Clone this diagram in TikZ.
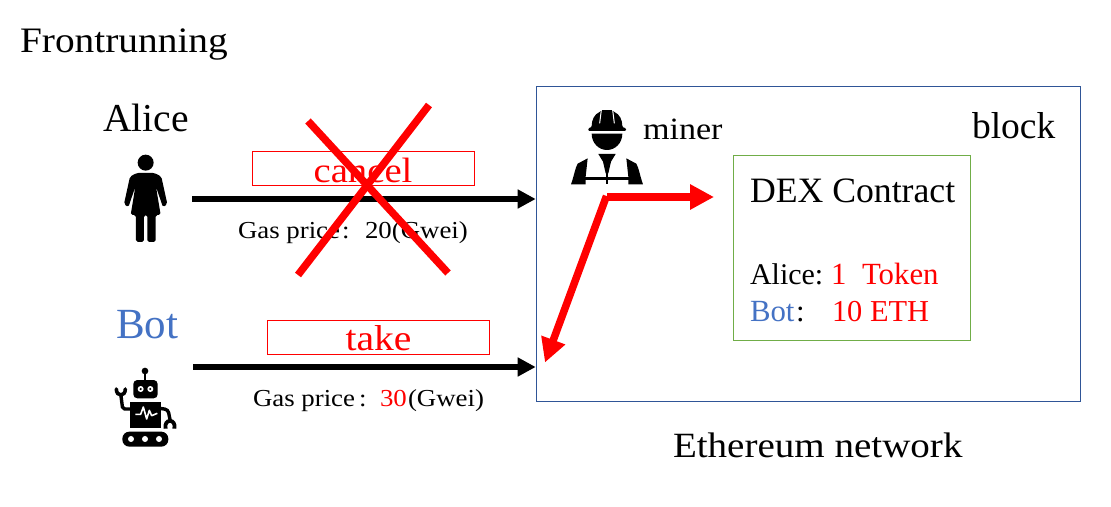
\documentclass[tikz,border=0pt]{standalone}
\usepackage{fontspec}
\setmainfont{Liberation Serif}
\newfontfamily\widefont[FakeStretch=1.1]{Liberation Serif}
\usetikzlibrary{arrows.meta}
\definecolor{blockblue}{HTML}{2F5597}
\definecolor{botblue}{HTML}{4472C4}
\definecolor{dexgreen}{HTML}{70AD47}
\tikzset{
  lbl/.style={anchor=base west,inner sep=0pt,outer sep=0pt,text=black},
  bigt/.style={lbl,font=\widefont\fontsize{35.8}{36}\selectfont},
  midt/.style={lbl,font=\fontsize{30.8}{31}\selectfont},
  smallt/.style={lbl,font=\widefont\fontsize{24.4}{24.4}\selectfont},
  redbox/.style={draw=red,line width=1pt,outer sep=0pt,minimum width=222pt,minimum height=34pt,inner sep=0pt},
  redword/.style={lbl,anchor=base,text=red,font=\widefont\fontsize{35.2}{36}\selectfont},
  blackarrow/.style={line width=6pt,draw=black,-{Triangle[length=18pt,width=18pt]}},
  redarrow/.style={line width=7.5pt,draw=red,-{Triangle[length=24pt,width=24pt]}},
  crossline/.style={line width=7.5pt,draw=red},
}
\begin{document}
\begin{tikzpicture}[x=1pt,y=-1pt]
\useasboundingbox (0,0) rectangle (1111,506);
\fill[white] (0,0) rectangle (1111,506);

% boxes
\node[draw=blockblue,line width=1.2pt,outer sep=0pt,minimum width=544pt,minimum height=315pt,inner sep=0pt,anchor=north west] (block) at (536.5,86.5) {};
\node[draw=dexgreen,line width=1.3pt,outer sep=0pt,minimum width=237pt,minimum height=185pt,inner sep=0pt,anchor=north west] (dex) at (733.5,155.5) {};
\node[redbox] (cancelbox) at (363.5,168.5) {};
\node[redbox] (takebox) at (378.5,337.5) {};
\node[redword] (canceltxt) at (363,182) {cancel};
\node[redword,font=\widefont\fontsize{36}{36}\selectfont] (taketxt) at (378.5,350) {take};

% labels
\node[bigt] (title) at (20,52) {Frontrunning};
\node[lbl,font=\fontsize{39.6}{40}\selectfont] (alice) at (103,131) {Alice};
\node[lbl,font=\fontsize{43}{43}\selectfont,text=botblue] (bot) at (116,338) {Bot};
\node[lbl,font=\widefont\fontsize{31}{31}\selectfont] (miner) at (643,139) {miner};
\node[lbl,font=\fontsize{37.5}{38}\selectfont] (blocktxt) at (972,138) {block};
\node[lbl,font=\fontsize{35.7}{36}\selectfont] (dextxt) at (750,202) {DEX Contract};
\node[midt,font=\fontsize{30}{31}\selectfont] (alicebal) at (750,284) {Alice:};
\node[midt,text=red] (aliceval) at (831,284) {1};
\node[midt,text=red] (aliceunit) at (862,284) {Token};
\node[midt,text=botblue] (botbal) at (750,321) {Bot};
\node[midt] (botcolon) at (796,321) {:};
\node[midt,text=red,font=\fontsize{30.4}{31}\selectfont] (botval) at (832,321) {10 ETH};
\node[bigt,font=\widefont\fontsize{35.5}{36}\selectfont] (network) at (673,457) {Ethereum network};
\node[smallt] (gas1) at (238,238) {Gas price};
\node[smallt] (colon1) at (342,238) {:};
\node[smallt] (price1) at (365,238) {20(Gwei)};
\node[smallt] (gas2) at (253,406) {Gas price};
\node[smallt] (colon2) at (359,406) {:};
\node[smallt,text=red] (val2) at (380,406) {30};
\node[smallt] (price2) at (408,406) {(Gwei)};

% connector ends
\coordinate (a1s) at (192,199);
\coordinate (a1e) at ([xshift=-0.8pt]block.west |- a1s);
\coordinate (a2s) at (193,367);
\coordinate (a2e) at ([xshift=-0.8pt]block.west |- a2s);
\coordinate (rk) at (607,197);
\coordinate (rk2) at (606.5,196);
\coordinate (re1) at (714,197);
\coordinate (re2) at (545,362.5);
\coordinate (c1a) at (429,105);
\coordinate (c1b) at (298,275);
\coordinate (c2a) at (308,121);
\coordinate (c2b) at (448,273);

\draw[blackarrow] (a1s) -- (a1e);
\draw[blackarrow] (a2s) -- (a2e);
\draw[redarrow] (rk) -- (re1);
\draw[redarrow] (rk2) -- (re2);
\draw[crossline] (c1a) -- (c1b);
\draw[crossline] (c2a) -- (c2b);

% Alice icon
\begin{scope}[shift={(90,90)},x=0.3333pt,y=-0.3333pt]
\fill (167,218) circle[radius=24];
\fill[rounded corners=1.8pt] (140,249) -- (194,249) -- (214,260) -- (232,342) -- (219,352) -- (198,290) -- (212,375) -- (197,375) -- (197,456) -- (172,456) -- (172,375) -- (162,375) -- (162,456) -- (138,456) -- (138,375) -- (122,375) -- (136,290) -- (115,352) -- (102,342) -- (120,260) -- cycle;
\end{scope}

% Bot icon
\begin{scope}[shift={(110,365)},x=0.3333pt,y=-0.3333pt]
\fill (105,18) circle[radius=10];
\draw[line width=2.8pt] (105,18) -- (105,50);
\fill[rounded corners=4pt] (70,45) rectangle (143,100);
\fill[white] (92,72) circle[radius=9] (121,72) circle[radius=9];
\fill (92,72) circle[radius=3.5] (121,72) circle[radius=3.5];
\fill (60,110) rectangle (152,190);
\draw[white,line width=1.6pt,line join=round] (76,148) -- (92,148) -- (100,126) -- (110,162) -- (118,136) -- (125,152) -- (142,145);
\draw[line width=3.4pt,rounded corners=2pt] (62,132) -- (38,132) -- (32,85);
\draw[line width=3.6pt,line cap=round] (19,72) .. controls (19,96) and (46,96) .. (46,72);
\draw[line width=3.4pt,rounded corners=3pt] (150,130) -- (174,134) -- (181,168);
\draw[line width=3.8pt] (167,191) .. controls (160,160) and (200,160) .. (193,191);
\fill[rounded corners=7pt] (37,200) rectangle (175,245);
\fill[white] (63,222) circle[radius=9] (105,222) circle[radius=9] (147,222) circle[radius=9];
\end{scope}

% miner icon
\begin{scope}[shift={(565,105)},x=0.3333pt,y=-0.3333pt]
\fill[rounded corners=1pt] (70,78) -- (70,70) -- (80,66) .. controls (80,45) and (88,28) .. (106,20) -- (110,15) -- (142,15) -- (146,20) .. controls (164,28) and (172,45) .. (172,66) -- (183,70) -- (183,78) -- cycle;
\draw[white,line width=1pt] (109,15) -- (104,55) (143,15) -- (148,55);
\fill (80,86) -- (172,86) .. controls (172,115) and (150,135) .. (126,135) .. controls (102,135) and (80,115) .. (80,86) -- cycle;
\fill (100,147) -- (152,147) -- (138,170) -- (130,205) -- (122,205) -- (114,170) -- cycle;
\fill (68,160) -- (38,176) .. controls (30,190) and (28,210) .. (18,238) -- (62,238) -- (62,215) -- cycle;
\fill (184,160) -- (214,176) .. controls (222,190) and (224,210) .. (234,238) -- (190,238) -- (190,215) -- cycle;
\fill (60,216) rectangle (192,226);
\fill (122,200) rectangle (130,238);
\end{scope}
\end{tikzpicture}
\end{document}
